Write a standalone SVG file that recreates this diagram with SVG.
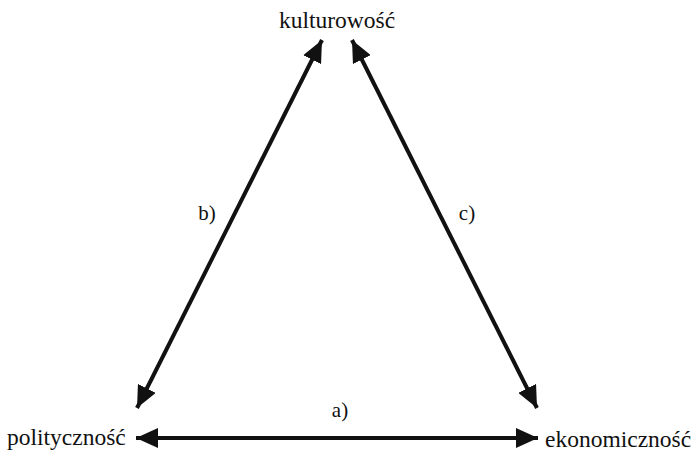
<svg xmlns="http://www.w3.org/2000/svg" width="694" height="453" viewBox="0 0 694 453">
<style>
text{font-family:'Liberation Serif','Times New Roman','DejaVu Serif',serif;fill:#111;}
.n{font-size:23.5px;}
.l{font-size:21px;}
.c{stroke:#111;stroke-width:4;fill:none;marker-start:url(#ah);marker-end:url(#ah);}
</style>
<defs>
<marker id="ah" markerUnits="userSpaceOnUse" markerWidth="24" markerHeight="20" refX="22" refY="10" orient="auto-start-reverse">
<path d="M0,0 L22,10 L0,20 Z" fill="#111"/>
</marker>
</defs>
<rect width="694" height="453" fill="#fff"/>
<g id="kulturowosc"><text class="n" x="337" y="28" text-anchor="middle">kulturowość</text></g>
<g id="politycznosc"><text class="n" x="7" y="445">polityczność</text></g>
<g id="ekonomicznosc"><text class="n" x="545" y="447">ekonomiczność</text></g>
<g id="connectors">
<line class="c" x1="322" y1="40" x2="137" y2="408"/>
<line class="c" x1="352" y1="40" x2="537" y2="408"/>
<line class="c" x1="136" y1="438" x2="538" y2="438"/>
<text class="l" x="340" y="417" text-anchor="middle">a)</text>
<text class="l" x="207" y="220" text-anchor="middle">b)</text>
<text class="l" x="467" y="220" text-anchor="middle">c)</text>
</g>
</svg>
